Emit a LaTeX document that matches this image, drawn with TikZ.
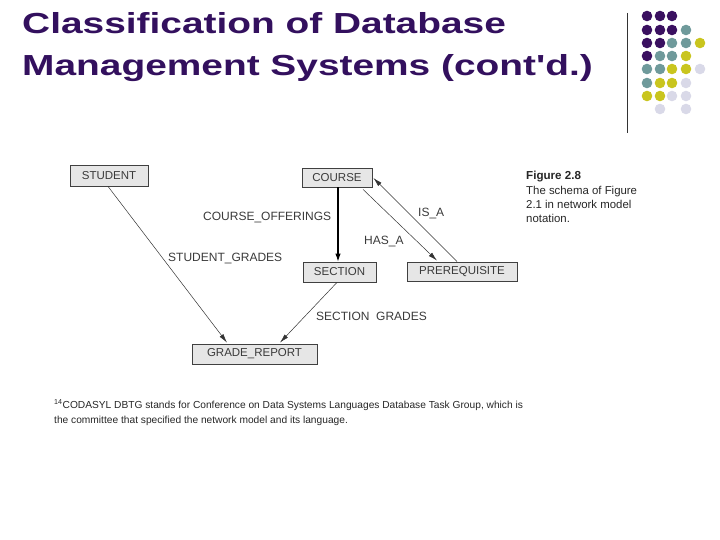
\documentclass[tikz,border=0pt]{standalone}
\usepackage{fontspec}
\setmainfont{Liberation Sans}
\newfontfamily\ttlfont{Liberation Sans}
\usetikzlibrary{arrows.meta,calc}
\definecolor{ttl}{HTML}{33105E}
\definecolor{dpurple}{HTML}{3A1060}
\definecolor{dteal}{HTML}{6F9A9B}
\definecolor{dyellow}{HTML}{C9C51E}
\definecolor{dlav}{HTML}{D9D9E8}
\definecolor{boxfill}{HTML}{E6E6E6}
\definecolor{txt}{HTML}{3A3A3A}
\tikzset{
  ent/.style={draw=black!75, fill=boxfill, line width=0.8pt, inner sep=0pt, text=txt,
    font=\fontsize{11.5}{13}\selectfont},
  lbl/.style={anchor=base west, inner sep=0pt, text=txt, font=\fontsize{12}{14}\selectfont},
  conn/.style={draw=black!80, line width=0.5pt, -{Latex[length=9pt,width=4.6pt]}},
  connb/.style={draw=black, line width=1.1pt, -{Latex[length=8pt,width=5.5pt]}},
  dot/.style={circle, inner sep=0pt, minimum size=10.6pt},
  captxt/.style={anchor=base west, inner sep=0pt, text=black!85, font=\fontsize{11.4}{13}\selectfont},
  foot/.style={anchor=base west, inner sep=0pt, text=black!85, font=\fontsize{10.2}{12}\selectfont},
  ttlstyle/.style={anchor=base west, inner sep=0pt, text=ttl, font=\ttlfont\fontsize{29}{34}\selectfont\bfseries}
}
\begin{document}
\begin{tikzpicture}[x=1pt,y=-1pt]
\useasboundingbox (0,0) rectangle (720,540);
% title
\node[ttlstyle] (t1) at (22,34) {\scalebox{1.34}[1]{Classification of Database}};
\node[ttlstyle] (t2) at (22,75.5) {\scalebox{1.34}[1]{Management Systems (cont'd.)}};
% vertical rule
\coordinate (v1) at (627,13);
\coordinate (v2) at (627,133);
\draw[line width=0.9pt, black!80] (v1) -- (v2);
% dots
\foreach \c/\x/\y in {
 dpurple/647/16, dpurple/660/16, dpurple/672/16,
 dpurple/647/30, dpurple/660/30, dpurple/672/30, dteal/686/30,
 dpurple/647/43, dpurple/660/43, dteal/672/43, dteal/686/43, dyellow/700/43,
 dpurple/647/56, dteal/660/56, dteal/672/56, dyellow/686/56,
 dteal/647/69, dteal/660/69, dyellow/672/69, dyellow/686/69, dlav/700/69,
 dteal/647/83, dyellow/660/83, dyellow/672/83, dlav/686/83,
 dyellow/647/96, dyellow/660/96, dlav/672/96, dlav/686/96,
 dlav/660/109, dlav/686/109}
 \node[dot, fill=\c] (d\x-\y) at (\x,\y) {};
% entities
\node[ent, minimum width=78pt, minimum height=21pt] (student) at (109,175.5) {STUDENT};
\node[ent, minimum width=70pt, minimum height=19pt] (course) at (337,177.5) {COURSE};
\node[ent, minimum width=73pt, minimum height=20pt] (section) at (339.5,272) {SECTION};
\node[ent, minimum width=110pt, minimum height=19pt] (prereq) at (462,271.5) {PREREQUISITE};
\node[ent, minimum width=125pt, minimum height=20pt] (grade) at (254.5,354) {GRADE\_REPORT};
% connectors
\draw[connb] ($(course.south)+(1,0)$) -- ($(section.north)+(-1.5,0)$);
\draw[conn] ($(course.south)+(26,2)$) -- ($(prereq.north)+(-25,-1)$);
\draw[conn] ($(prereq.north)+(-5,0)$) -- ($(course.east)+(1,0.5)$);
\draw[conn] ($(student.south)+(-1,0)$) -- ($(grade.north)+(-27.5,-1)$);
\draw[conn] ($(section.south)+(-2.5,0)$) -- ($(grade.north)+(25.5,-1)$);
% labels
\node[lbl] (l1) at (203,221) {COURSE\_OFFERINGS};
\node[lbl] (l2) at (418,217) {IS\_A};
\node[lbl] (l3) at (364,244.5) {HAS\_A};
\node[lbl] (l4) at (168,261) {STUDENT\_GRADES};
\node[lbl] (l5) at (316,320) {SECTION\ \ GRADES};
% caption
\node[captxt, font=\fontsize{11.6}{13}\selectfont\bfseries] (c1) at (526,180) {Figure 2.8};
\node[captxt] (c2) at (526,194.5) {The schema of Figure};
\node[captxt] (c3) at (526,208.5) {2.1 in network model};
\node[captxt] (c4) at (526,222.5) {notation.};
% footnote
\node[foot] (f1) at (54,408) {\textsuperscript{14}CODASYL DBTG stands for Conference on Data Systems Languages Database Task Group, which is};
\node[foot] (f2) at (54,423) {the committee that specified the network model and its language.};
\end{tikzpicture}
\end{document}
